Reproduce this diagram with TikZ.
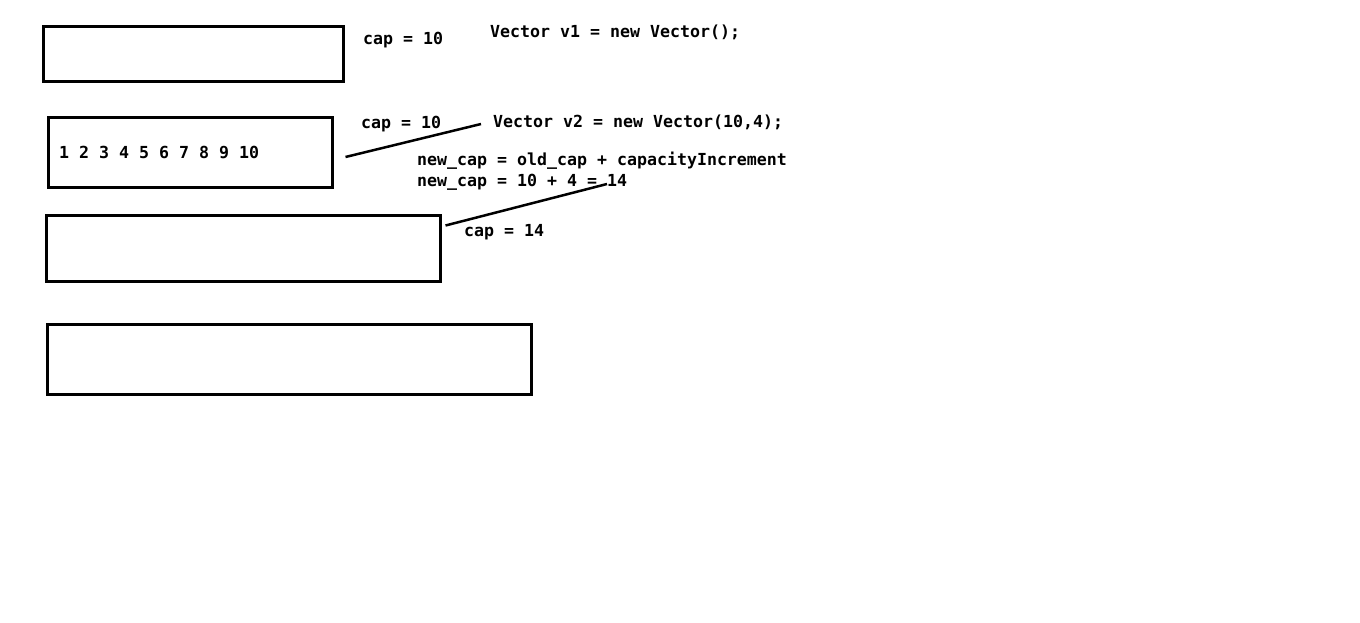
\documentclass[tikz,border=0pt]{standalone}
\usepackage{fontspec}
\setmonofont{DejaVu Sans Mono}
\usetikzlibrary{calc}
\tikzset{
  buffer/.style={draw, rectangle, line width=3pt, inner sep=0pt},
  code/.style={anchor=west, inner sep=0pt, font=\ttfamily\bfseries\fontsize{16.6}{19}\selectfont},
  link/.style={line width=2.5pt}
}
\begin{document}
\begin{tikzpicture}[x=1pt,y=-1pt]
\useasboundingbox[fill=white] (0,0) rectangle (1360,623);

% ------------------------------------------------------------------
% v1: default constructor
% ------------------------------------------------------------------
\node[buffer, minimum width=300pt, minimum height=55pt] (bufA) at (193,54.5) {};
\node[code] (capA) at (363,40.5) {cap = 10};
\node[code] (ctorA) at (490,32.5) {Vector v1 = new Vector();};

% ------------------------------------------------------------------
% v2: capacity 10, increment 4
% ------------------------------------------------------------------
\node[buffer, minimum width=284pt, minimum height=69pt] (bufB) at (190,152.5) {};
\node[code] (elemsB) at (59,152.5) {1 2 3 4 5 6 7 8 9 10};
\node[code] (capB) at (361,124.5) {cap = 10};
\node[code] (ctorB) at (493,122.5) {Vector v2 = new Vector(10,4);};
\node[code] (ruleB) at (417,160.5) {new\_cap = old\_cap + capacityIncrement};
\node[code] (sumB) at (417,182.5) {new\_cap = 10 + 4 = 14};

% ------------------------------------------------------------------
% grown buffers
% ------------------------------------------------------------------
\node[buffer, minimum width=394pt, minimum height=66pt] (bufC) at (243,248) {};
\node[code] (capC) at (464,232.5) {cap = 14};
\node[buffer, minimum width=484pt, minimum height=70pt] (bufD) at (289,359) {};

\draw[link] ([shift={(12,4.5)}]bufB.east) -- ([shift={(-12,1.5)}]ctorB.west);
\draw[link] ([shift={(4,12)}]bufC.north east) -- ([shift={(190,1.5)}]sumB.west);

\end{tikzpicture}
\end{document}
